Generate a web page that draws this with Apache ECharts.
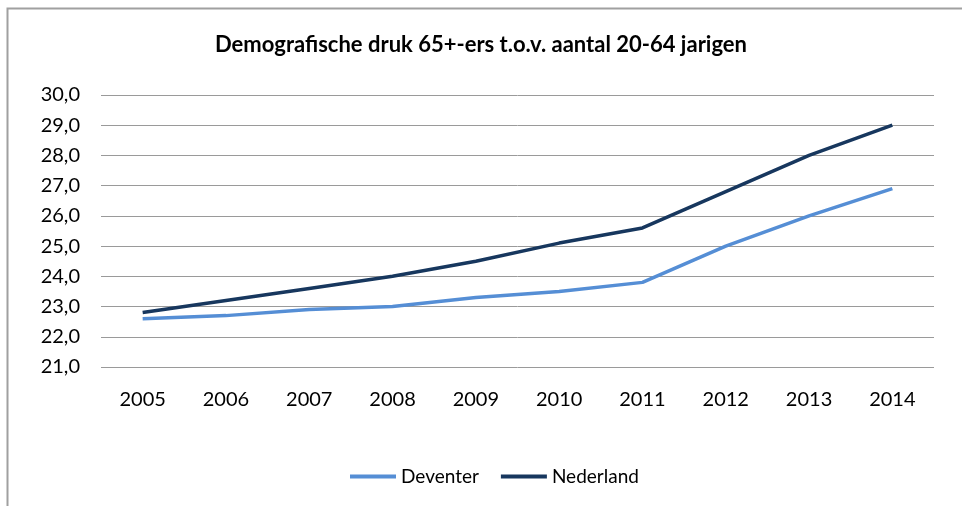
<!DOCTYPE html>
<html>
<head>
<meta charset="utf-8">
<script src="https://cdn.jsdelivr.net/npm/echarts@6/dist/echarts.min.js"></script>
<style>
  html, body { margin: 0; padding: 0; background: #fff; }
  #chart { width: 962px; height: 506px; }
</style>
</head>
<body>
<div id="chart"></div>
<script>
const years = ['2005', '2006', '2007', '2008', '2009', '2010', '2011', '2012', '2013', '2014'];
const deventer = [22.6, 22.7, 22.9, 23.0, 23.3, 23.5, 23.8, 25.0, 26.0, 26.9];
const nederland = [22.8, 23.2, 23.6, 24.0, 24.5, 25.1, 25.6, 26.8, 28.0, 29.0];

const font = 'Lato, "Open Sans", sans-serif';

let myChart = echarts.init(document.getElementById('chart'));
let option = {
  backgroundColor: '#fff',
  animation: false,
  title: {
    text: 'Demografische druk 65+-ers t.o.v. aantal 20-64 jarigen',
    left: 'center',
    top: 29,
    textStyle: { fontFamily: font, fontSize: 22, fontWeight: 'bold', color: '#000' }
  },
  graphic: [{
    type: 'rect',
    shape: { x: 7.5, y: 8.5, width: 1000, height: 1000 },
    style: { fill: 'none', stroke: '#a0a0a0', lineWidth: 2 },
    silent: true
  }],
  legend: {
    bottom: 15,
    left: 345,
    itemWidth: 46,
    itemHeight: 4,
    itemGap: 22,
    icon: 'rect',
    textStyle: { fontFamily: font, fontSize: 19, color: '#000' },
    data: ['Deventer', 'Nederland']
  },
  grid: { left: 101, right: 28, top: 95, bottom: 139 },
  xAxis: {
    type: 'category',
    data: years,
    boundaryGap: true,
    axisLine: { show: false },
    axisTick: { show: false },
    axisLabel: { fontFamily: font, fontSize: 20, color: '#000', margin: 23 }
  },
  yAxis: {
    type: 'value',
    min: 21,
    max: 30,
    interval: 1,
    axisLine: { show: false },
    axisTick: { show: false },
    axisLabel: {
      fontFamily: font, fontSize: 20, color: '#000', margin: 21,
      formatter: (v) => v.toFixed(1).replace('.', ',')
    },
    splitLine: { lineStyle: { color: '#9a9a9a', width: 1 } }
  },
  series: [
    {
      name: 'Deventer',
      type: 'line',
      data: deventer,
      symbol: 'none',
      color: '#558ed5',
      lineStyle: { width: 3.5, color: '#558ed5' }
    },
    {
      name: 'Nederland',
      type: 'line',
      data: nederland,
      symbol: 'none',
      color: '#17375e',
      lineStyle: { width: 3.5, color: '#17375e' }
    }
  ]
};
option && myChart.setOption(option);
</script>
</body>
</html>
